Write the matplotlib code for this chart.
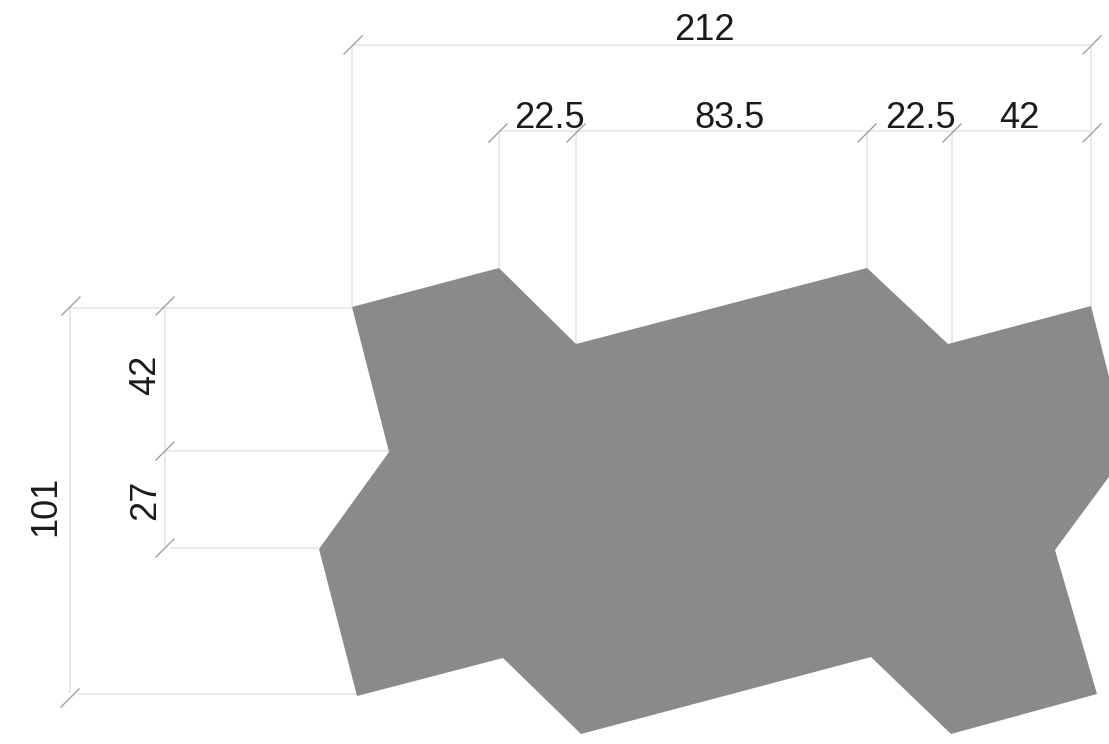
import matplotlib
matplotlib.use("Agg")
from matplotlib import pyplot as plt
from matplotlib.patches import Polygon

# everything in pixels, y going down
shape_x = [352, 499, 576, 867, 948, 1091, 1128, 1055, 1097, 951, 871, 581, 503, 357, 319, 389]
shape_y = [307, 268, 344, 268, 344, 306, 451, 550, 694, 734, 657, 734, 658, 696, 549, 452]

# horizontal chains: line y, then the witness x positions and how far down they run
top_line_y = [45, 131]
top_line_x0 = [352, 499]
top_line_x1 = [1091, 1091]
witness_x = [352, 499, 576, 867, 952, 1091]
witness_y0 = [45, 131, 131, 131, 131, 45]
witness_y1 = [307, 268, 344, 268, 344, 306]

# left side chains
left_line_y = [308, 451, 548, 694]
left_line_x0 = [70, 165, 170, 78]
left_line_x1 = [352, 389, 319, 357]
vert_x = [70, 165]
vert_y0 = [308, 308]
vert_y1 = [693, 548]

tick_x = [353, 1092, 498, 576, 867, 952, 1092, 71, 165, 165, 165, 70]
tick_y = [45, 45, 133, 133, 133, 133, 133, 306, 306, 451, 548, 698]

top_labels = ["212", "22.5", "83.5", "22.5", "42"]
top_label_x = [704, 549, 729, 920, 1019]
top_label_y = [31, 118, 118, 118, 118]
left_labels = ["42", "27", "101"]
left_label_x = [146, 146, 46]
left_label_y = [375, 500, 506]

fig = plt.figure(figsize=(11.09, 7.44), dpi=100)
ax = fig.add_axes([0, 0, 1, 1])
ax.set_xlim(0, 1109)
ax.set_ylim(744, 0)
ax.axis("off")

plt.rcParams["font.family"] = ["Liberation Sans", "DejaVu Sans"]
line_col = "#e6e6e6"
tick_col = "#a0a0a0"
text_col = "#1a1a1a"

for y, x0, x1 in zip(top_line_y, top_line_x0, top_line_x1):
    ax.plot([x0, x1], [y, y], color=line_col, lw=1.2, solid_capstyle="butt")
for x, y0, y1 in zip(witness_x, witness_y0, witness_y1):
    ax.plot([x, x], [y0, y1], color=line_col, lw=1.2, solid_capstyle="butt")
for y, x0, x1 in zip(left_line_y, left_line_x0, left_line_x1):
    ax.plot([x0, x1], [y, y], color=line_col, lw=1.2, solid_capstyle="butt")
for x, y0, y1 in zip(vert_x, vert_y0, vert_y1):
    ax.plot([x, x], [y0, y1], color=line_col, lw=1.2, solid_capstyle="butt")

for x, y in zip(tick_x, tick_y):
    ax.plot([x - 9, x + 9], [y + 9, y - 9], color=tick_col, lw=1.0)

ax.add_patch(Polygon(list(zip(shape_x, shape_y)), closed=True, facecolor="#8a8a8a", edgecolor="none", zorder=3))

for s, x, y in zip(top_labels, top_label_x, top_label_y):
    ax.text(x, y, s, fontsize=26, color=text_col, ha="center", va="center")
for s, x, y in zip(left_labels, left_label_x, left_label_y):
    ax.text(x, y, s, fontsize=26, color=text_col, ha="center", va="center", rotation=90)

fig.savefig("out.png", dpi=100)
